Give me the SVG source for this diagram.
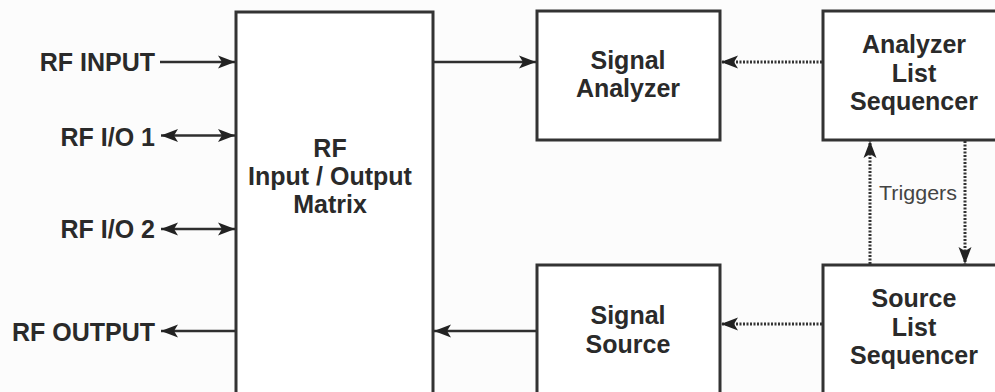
<svg xmlns="http://www.w3.org/2000/svg" width="995" height="392" viewBox="0 0 995 392">
  <style>
    .box { fill: #ffffff; stroke: #333333; stroke-width: 3; }
    .lbl { font-family: "Liberation Sans", Arial, sans-serif; font-weight: bold; font-size: 25px; fill: #2a2a2a; }
    .mid { text-anchor: middle; }
    .end { text-anchor: end; }
    .solid { stroke: #2f2f2f; stroke-width: 2.6; fill: none; }
    .dot { stroke: #333333; stroke-width: 3; fill: none; stroke-dasharray: 2 1.5; }
    .trig { font-family: "Liberation Sans", Arial, sans-serif; font-size: 20px; fill: #444444; text-anchor: middle; }
  </style>
  <defs>
    <marker id="ah" markerUnits="userSpaceOnUse" markerWidth="19" markerHeight="15" refX="17" refY="7" orient="auto-start-reverse" viewBox="0 0 19 15">
      <path d="M0,0.5 L17,7 L0,13.5 L4,7 Z" fill="#222222"/>
    </marker>
  </defs>
  <rect x="0" y="0" width="995" height="392" fill="#fcfcfc"/>

  <g id="matrix">
    <rect class="box" x="236" y="12" width="197" height="400"/>
    <text class="lbl mid" x="330" y="157">RF</text>
    <text class="lbl mid" x="330" y="185">Input / Output</text>
    <text class="lbl mid" x="330" y="213">Matrix</text>
  </g>

  <g id="signal-analyzer">
    <rect class="box" x="537" y="11" width="183" height="129"/>
    <text class="lbl mid" x="628" y="69">Signal</text>
    <text class="lbl mid" x="628" y="97">Analyzer</text>
  </g>

  <g id="analyzer-list-sequencer">
    <rect class="box" x="823" y="11" width="190" height="129"/>
    <text class="lbl mid" x="914" y="53">Analyzer</text>
    <text class="lbl mid" x="914" y="82">List</text>
    <text class="lbl mid" x="914" y="110">Sequencer</text>
  </g>

  <g id="signal-source">
    <rect class="box" x="537" y="265" width="183" height="150"/>
    <text class="lbl mid" x="628" y="324">Signal</text>
    <text class="lbl mid" x="628" y="353">Source</text>
  </g>

  <g id="source-list-sequencer">
    <rect class="box" x="823" y="265" width="190" height="150"/>
    <text class="lbl mid" x="914" y="307">Source</text>
    <text class="lbl mid" x="914" y="336">List</text>
    <text class="lbl mid" x="914" y="364">Sequencer</text>
  </g>

  <g id="ports">
    <text class="lbl end" x="155" y="71">RF INPUT</text>
    <text class="lbl end" x="155" y="146">RF I/O 1</text>
    <text class="lbl end" x="155" y="238">RF I/O 2</text>
    <text class="lbl end" x="155" y="341">RF OUTPUT</text>
  </g>

  <g id="connectors">
    <line class="solid" x1="160" y1="62" x2="235" y2="62" marker-end="url(#ah)"/>
    <line class="solid" x1="161" y1="135.5" x2="235" y2="135.5" marker-start="url(#ah)" marker-end="url(#ah)"/>
    <line class="solid" x1="161" y1="229" x2="235" y2="229" marker-start="url(#ah)" marker-end="url(#ah)"/>
    <line class="solid" x1="235" y1="331" x2="161" y2="331" marker-end="url(#ah)"/>
    <line class="solid" x1="434" y1="62" x2="536" y2="62" marker-end="url(#ah)"/>
    <line class="solid" x1="536" y1="331" x2="434" y2="331" marker-end="url(#ah)"/>
    <line class="dot" x1="822" y1="62" x2="721" y2="62" marker-end="url(#ah)"/>
    <line class="dot" x1="822" y1="324" x2="721" y2="324" marker-end="url(#ah)"/>
    <line class="dot" x1="870" y1="264" x2="870" y2="141" marker-end="url(#ah)"/>
    <line class="dot" x1="965" y1="141" x2="965" y2="264" marker-end="url(#ah)"/>
    <text class="trig" x="918" y="200" textLength="78" lengthAdjust="spacingAndGlyphs">Triggers</text>
  </g>
</svg>
